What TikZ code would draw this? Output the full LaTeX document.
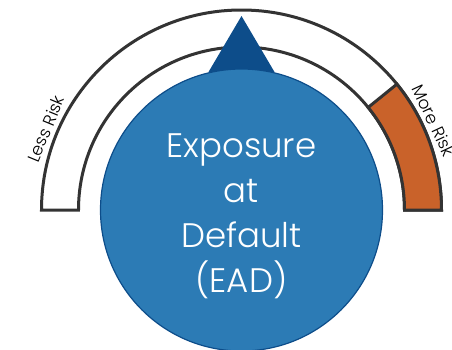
\documentclass[tikz,border=0pt]{standalone}
\usepackage{fontspec}
\setmainfont{Poppins Light}
\definecolor{gaugeblue}{HTML}{2C7BB5}
\definecolor{gaugedark}{HTML}{0D4D8A}
\definecolor{gaugeorange}{HTML}{C9622A}
\definecolor{gaugeline}{HTML}{333333}

\begin{document}
\begin{tikzpicture}[x=1pt,y=1pt]
            \useasboundingbox (-241.5,-139) rectangle (210.5,210);

            % gauge band
            \draw[gaugeline, line width=3pt, fill=white] (-200,0) arc (180:0:200) -- (163,0) arc (0:180:163) -- cycle;
            \draw[gaugeline, line width=3pt, fill=gaugeorange] (200,0) arc (0:39:200) -- (39:163) arc (39:0:163) -- cycle;

            % pointer and dial
            \fill[gaugedark] (0,194) -- (-33,138) -- (33,138) -- cycle;
            \filldraw[fill=gaugeblue, draw=gaugedark, line width=1.2pt] (0,0) circle (141);

            \node[text=white, font=\fontsize{34}{45}\selectfont, align=center] (ead) at (0,-6) {Exposure\\at\\Default\\(EAD)};

            \node[font=\fontsize{17}{20}\selectfont, anchor=south, rotate=67.5] (less) at (157.5:202) {Less Risk};
            \node[font=\fontsize{17}{20}\selectfont, anchor=south, rotate=-65] (more) at (25:202) {More Risk};
        \end{tikzpicture}
\end{document}
